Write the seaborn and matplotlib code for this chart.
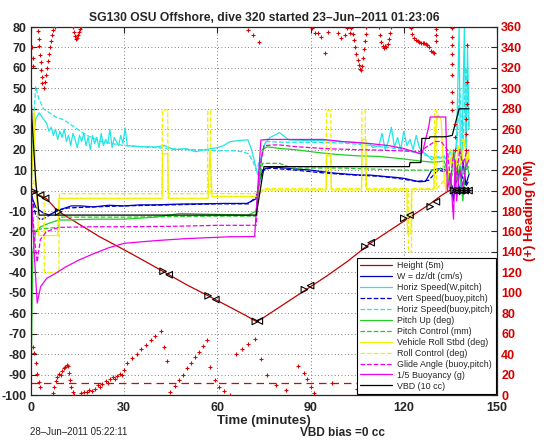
import numpy as np
import matplotlib
matplotlib.use("Agg")
import matplotlib.pyplot as plt
import seaborn as sns

# ---- data (time in minutes) ----
height_t = [0, 1, 3, 5, 8.6, 15, 22, 30, 36, 42.7, 50, 57.7, 64, 69, 72.5, 74, 80, 88, 95, 102, 109, 116, 122, 128, 132, 134.6, 137, 142]
height_v = [0, -1, -2.5, -4, -10, -16, -22.5, -29, -34, -39.7, -46, -52, -57, -61, -64, -63, -57, -49, -42, -34.5, -26, -19, -13, -7, -2.5, 0, 0, 0]

# triangle markers along the height trace
tri_r_t = [1, 8.9, 42.5, 57, 72.2, 88, 107.5, 120, 128.5, 136, 137.5, 139, 140.5]
tri_r_v = [-0.6, -10.4, -39.5, -51.5, -64, -48.5, -27.5, -13.6, -7.9, 0, 0, 0, 0]
tri_l_t = [3.1, 4.7, 44.5, 59.5, 73.5, 90, 109.5, 122, 130.5, 136.8, 138.3, 139.8, 141]
tri_l_v = [-2.2, -3.8, -41.2, -53.3, -63.8, -46.5, -25.5, -12, -5.5, 0, 0, 0, 0]

w_t = [0, 0.5, 1.5, 2.6, 4, 5.8, 7, 9, 11, 13, 16, 20, 25, 30, 35, 40, 48, 55, 62, 69.5, 72.5, 74, 75.5, 78, 82, 86, 90, 94, 98, 102, 106, 109, 113, 117, 120, 123, 125, 127, 129, 131.8, 133.5, 135, 136, 137, 138, 139, 140, 141]
w_v = [0, -4, -8, -9.5, -11, -12, -11, -9.5, -8.5, -7.5, -7.5, -8, -7.2, -7.5, -7, -7, -6.6, -6.5, -6.3, -6.3, -4, 8, 10.9, 11.5, 11, 10.5, 10, 9.2, 8.5, 8, 7.6, 7.6, 7, 6.5, 6, 5, 4.3, 4.5, 10, 10.8, 10, 5, -5, 12, -2, 15, 3, 8]

hs_t = [0, 0.5, 1.5, 2.6, 4, 5, 5.8, 6.5, 7.2, 7.9, 8.6, 9.3, 10, 10.7, 11.4, 12.1, 12.8, 13.5, 14.2, 14.9, 15.6, 16.3, 17, 17.7, 18.4,
        19.1, 19.8, 20.5, 21.2, 21.9, 22.6, 23.3, 24, 24.7, 25.4, 26.1, 26.8, 27.5, 28.2, 28.9, 29.6, 30.3, 31, 35, 40, 43, 46, 50,
        53, 56, 60, 62, 64, 67, 69.8, 71, 72.3, 73, 74, 75.3, 77, 80, 83, 88, 95, 100, 105, 109, 110, 112, 113, 114, 115, 116, 117,
        118, 119, 120, 121, 122, 123, 124, 125, 126, 127, 128, 129, 130, 131, 132, 133, 134, 135, 136, 137, 137.8, 138.3, 139, 139.5,
        140, 140.5, 141]
hs_v = [0, 20, 35, 38, 35, 33, 29, 31, 27, 30, 25, 29, 26, 30, 24, 27, 22, 28, 25, 21, 27, 24, 28, 22, 26,
        20, 27, 23, 26, 21, 28, 22, 25, 23, 30, 21, 26, 24, 22, 27, 23, 30.6, 22, 21.5, 21.3, 22, 20, 20.5,
        19, 20, 21, 22, 23.9, 24.5, 24.8, 20, 12, 7.6, 15, 23, 26, 28.3, 24.8, 24.5, 24.5, 24, 23.5, 23, 21, 22, 28, 20, 24, 31, 21,
        26, 20, 29, 22, 25, 20, 27, 21, 19, 18, 16.6, 15, 16, 16.6, 16, 17, 14, 20, 10, 25, 80, 0, 40, 80,
        10, 70, 30]

vs_t = [0, 0.5, 1.5, 3.1, 5, 7, 9, 12, 20, 30, 45, 60, 70, 72.5, 74.5, 77, 85, 95, 105, 112, 118, 124, 128, 131, 134, 136, 138, 140, 141]
vs_v = [0, -5, -12, -14.4, -13, -11, -9.5, -8.5, -8, -7.5, -7, -6.5, -6.5, -3, 10, 11, 10, 8.5, 7.5, 7, 6, 4.5, 5, 10, 9, 0, 10, 2, 5]

hsb_t = [0, 0.7, 1.5, 2.5, 4, 6, 8, 10.7, 14, 18, 22.4, 26, 30, 35, 40, 45, 50, 55, 60, 65, 68, 70, 71.5, 72.5, 74, 75.5, 78, 82, 90, 100, 110, 115, 120, 125, 128, 130, 133, 135, 137, 138, 139, 140, 141]
hsb_v = [0, 30, 50.8, 45, 40, 38, 36, 34.5, 31, 27, 24, 23, 22, 21.5, 21, 20.5, 20, 20, 19.5, 19.5, 19, 18, 14, 10, 16, 24, 23.8, 23.6, 23.6, 23.3, 22, 21, 20, 18, 17, 16, 16, 15, 20, 50, 20, 60, 30]

pitch_t = [0, 0.3, 0.6, 1.5, 3.1, 5.8, 9, 12, 20, 30, 40, 48, 55, 64, 70, 72.5, 74.5, 76, 80, 85, 94, 100, 105, 112, 119.7, 125, 129, 131, 133, 134, 135, 136, 137, 138, 139, 140, 141]
pitch_v = [-100, -60, -30, -20, -17.7, -16, -14.4, -14.4, -14, -14, -13, -11.2, -11.5, -11.8, -12, -10, 20, 21.4, 20.6, 20, 18.3, 17.5, 17, 16.7, 15.5, 14.5, 13.9, 14, 14.5, 10, 0, 20, 5, 12, -5, 15, 8]

pc_t = [0, 2, 5, 8.9, 9.2, 30, 60, 72.5, 73, 74.5, 80, 84, 90, 100, 110, 120, 129, 131, 133, 135, 137, 139, 141]
pc_v = [-20, -19, -18.5, -18, -13, -13, -12.5, -12.5, 0, 13.3, 13.3, 11, 11, 11, 10.5, 10, 10, 10, 12, 5, 15, 8, 12]

roll_t = [0, 0.5, 1, 1.5, 2.5, 8.6, 9, 42.2, 42.4, 44, 44.2, 57, 57.6, 58.3, 72.5, 75, 95, 95.2, 96.5, 96.7, 106.4, 106.6, 107.8, 108, 121,
          121.2, 122.3, 122.5, 129.6, 130.2, 131, 132, 132.8, 133.5, 134.5, 135.5, 136.5, 137.5, 138.5, 139.5, 140.4, 141]
roll_v = [0, 15, 39, 5, -22, -22, -3.8, -3.8, 18, 18, -3.8, -3.8, 20, -3, -3, 0.3, 0.3, 17, 17, 0.3, 0.3, 25, 25, 0.3, 0.3,
          -21, -21, 0.5, 0.5, 30, 37, 35, 10, 0, 10, 18, 5, 22, 12, 24.7, 13, 20]

rc_t = [0, 1, 2, 4.2, 4.3, 9, 9.1, 42.2, 42.3, 44, 44.1, 56.8, 56.9, 57.8, 57.9, 72.5, 75, 95, 95.1, 96.5, 96.6, 106.4, 106.5, 107.6, 107.7,
        121.4, 121.5, 122.5, 122.6, 129.8, 129.9, 130.5, 130.6, 133, 135, 137, 139, 141]
rc_v = [0, 5, -1.5, -1.5, -40, -40, -1.5, -1.5, 39.4, 39.4, -1.5, -1.5, 39, 39, -1.5, -1.5, 1, 1, 39, 39, 1, 1, 39, 39, 1,
        1, -30, -30, 1, 1, 39, 39, 1, 5, 20, 10, 25, 15]

ga_t = [0, 0.5, 1.2, 2, 3, 5, 7, 9, 20, 30, 45, 60, 64, 72.5, 73.5, 75, 78, 80, 85, 95, 105, 112, 118, 125, 128, 130, 132, 134, 135, 136, 137, 138, 139, 140, 141]
ga_v = [0, -10, -25, -35, -24, -20, -19, -18, -17.7, -17.7, -17.5, -17, -17, -17, 10, 22, 22.3, 22.3, 21.5, 20.5, 20, 19.8, 19.5, 19, 22, 24, 24, 20, 5, 18, 8, 20, 12, 18, 20]

buoy_t = [0, 0.5, 1.2, 2, 3.1, 5, 7.9, 11, 15.4, 20, 25, 30, 40, 50, 64, 72, 72.5, 74, 76, 80, 90, 94, 100, 109, 115, 119.6, 125, 126, 127,
          128, 128.5, 133.5, 134, 135, 136, 136.5, 137, 138, 139, 140, 141]
buoy_v = [0, -15, -35, -55, -47, -43, -40.5, -37.5, -34, -31, -28, -25.8, -24.5, -23.5, -22.6, -22.5, -10, 24.7, 25, 25, 25, 25, 24, 23, 22,
          20.7, 18.2, 18.5, 25, 31, 36, 36, 0, 8, -14, 15, -5, 10, 2, 12, 15]

vbd_t = [0, 0.3, 1.5, 2.6, 72.5, 75, 121.8, 122, 125.5, 125.8, 128.2, 128.4, 133.5, 135.6, 137.8, 141]
vbd_v = [48, 35, 5, -12, -12, 11.7, 11.7, 13.7, 13.7, 25.5, 25.5, 26.3, 26.3, 27, 40, 40]

# heading (right axis, degrees magnetic)
head_t = [0.2, 0.5, 0.8, 2.3, 2.5, 2.7, 2.9, 3.1, 3.3, 3.5, 3.7, 4.2, 4.5, 4.8, 5.1, 5.4, 5.7, 6.0, 6.4, 6.8, 7.2, 7.6,
          13.5, 13.8, 14.1, 14.4, 14.7, 15, 15.3, 15.7, 16.2,
          70, 71.5, 73.4,
          90.3, 91.3, 92.4, 93.5, 94.6, 95.6, 98.8, 99.9, 101, 101.7, 102.6,
          103.1, 103.5, 103.9, 104.3, 104.7, 105.1, 105.5, 105.9, 106.3, 106.6, 106.9, 107.2, 107.5, 107.7, 107.9,
          112, 112.4, 112.8, 113.2, 113.6, 114, 114.4, 114.8, 115.2, 115.6, 116,
          122.3, 122.8, 123.4, 123.9, 124.5, 125.0, 125.5, 126.1, 126.6, 127.1, 127.6, 128.2, 128.7, 129.3, 129.8,
          130.3, 130.3, 130.3,
          135.6, 135.6, 135.6, 135.6, 135.6, 135.6, 135.6, 135.6, 135.6, 136.5, 136.5, 136.5,
          140.3, 140.3, 140.3, 140, 140, 140,
          0.5, 1, 1.5, 2, 2.5, 3,
          7, 7.5, 8, 8.5, 9, 9.5, 10, 10.5, 11, 11.5, 11.8, 12.2, 12.6, 13, 13.4, 13.8,
          16, 17, 18, 18.8, 19.5, 20.5, 21.5, 22.3, 23, 24, 24.7, 25.5, 26.3, 27, 27.8, 28.5, 29.2, 29.9,
          31, 32.5, 34, 35.5, 37, 38.5, 40, 41.7, 42.7, 43.8,
          44.9, 46.2, 47.5, 48.8, 50.1, 51.4, 52.7, 54, 55.3, 56.6, 57.7, 59.3, 60.5, 62, 64,
          66, 68, 70, 72, 74, 76, 79, 82, 86, 88, 89, 90, 91, 97, 105, 112, 115, 117, 119, 122, 126, 129, 131, 134]
head_v = [340, 330, 322, 356, 348, 341, 333, 326, 318, 311, 305, 300, 306, 313, 320, 327, 334, 340, 346, 352, 357, 360,
          360, 355, 351, 348, 349, 352, 355, 358, 360,
          357, 352, 345,
          358.7, 353.8, 353.8, 350.5, 334.2, 355.4, 353.8, 349, 352.2, 358.7, 354.4,
          359, 353, 347, 340, 334, 328, 323, 319, 318, 322, 330, 338, 346, 353, 360,
          360, 352, 345, 341, 339, 341, 340, 343, 348, 354, 360,
          358.7, 353, 349, 347, 346, 345.7, 344.5, 344, 344.1, 343, 342.4, 340, 337, 335.9, 334.3,
          358, 352, 346,
          359, 350.5, 342, 334, 324, 313, 296.6, 287, 279, 265, 252, 240,
          342, 306, 285, 270, 255, 240,
          47, 40.8, 31, 21, 13, 8,
          2, 8, 14, 18, 21, 20, 23, 26, 27, 29, 28, 22, 15, 8, 3, 0,
          1.7, 2.5, 3, 5, 4, 6, 10, 8, 10.5, 14, 12, 16, 18, 16, 19, 21, 20, 24.5,
          31, 36, 40, 45, 49, 54, 58, 63, 47, 33,
          3.2, 9, 15, 20, 26, 31, 37, 42, 48, 53.8, 27.7, 14.7, 8, 4, 0,
          40, 45, 50, 55, 35, 20, 10, 5, 28, 22, 16, 8, 2, 12, 6, 3, 10, 2, 7, 13, 3, 10, 4, 8]

head_ref = 12  # dashed reference heading

# ---- styling ----
sns.set_style("white")
plt.rcParams['font.family'] = ['Liberation Sans', 'DejaVu Sans']
plt.rcParams['font.weight'] = 'bold'
plt.rcParams['axes.unicode_minus'] = False

red = '#d40000'
blue = '#0000c8'
cyan = '#22e5e5'
green = '#22cc22'
yellow = '#f0f000'
mag = '#ee00ee'

fig = plt.figure(figsize=(5.46, 4.42), dpi=100)
ax = fig.add_axes([31/546, 1-395/442, (497-31)/546, (395-27)/442])
ax2 = ax.twinx()

lw = 0.9
def line(t, v, c, ls='-', label=None):
    sns.lineplot(x=t, y=v, ax=ax, color=c, linestyle=ls, lw=lw, estimator=None, sort=False, label=label, legend=False)

line(height_t, height_v, '#c00000', label='Height (5m)')
line(w_t, w_v, blue, label='W = dz/dt (cm/s)')
line(hs_t, hs_v, cyan, label='Horiz Speed(W,pitch)')
line(vs_t, vs_v, blue, '--', label='Vert Speed(buoy,pitch)')
line(hsb_t, hsb_v, cyan, '--', label='Horiz Speed(buoy,pitch)')
line(pitch_t, pitch_v, green, label='Pitch Up (deg)')
line(pc_t, pc_v, green, '--', label='Pitch Control (mm)')
line(roll_t, roll_v, yellow, label='Vehicle Roll Stbd (deg)')
line(rc_t, rc_v, yellow, '--', label='Roll Control (deg)')
line(ga_t, ga_v, mag, '--', label='Glide Angle (buoy,pitch)')
line(buoy_t, buoy_v, mag, label='1/5 Buoyancy (g)')
line(vbd_t, vbd_v, 'black', label='VBD (10 cc)')

sns.scatterplot(x=tri_r_t, y=tri_r_v, ax=ax, marker='>', s=22, facecolor='none', edgecolor='black', linewidth=0.8,
                zorder=5, legend=False)
sns.scatterplot(x=tri_l_t, y=tri_l_v, ax=ax, marker='<', s=22, facecolor='none', edgecolor='black', linewidth=0.8,
                zorder=5, legend=False)

sns.scatterplot(x=head_t, y=head_v, ax=ax2, marker='+', s=12, color='#e00000', linewidth=0.8, zorder=4, legend=False)
ax2.axhline(head_ref, color='#e00000', ls='--', lw=0.9, dashes=(6, 4))

ax.set_xlim(0, 150)
ax.set_ylim(-100, 80)
ax.set_xticks(range(0, 151, 30))
ax.set_yticks(range(-100, 81, 10))
ax.grid(True, linestyle=(0, (1, 3)), color='#555555', lw=0.6)
ax.tick_params(direction='in', length=4, labelsize=9, top=True, width=0.8, pad=3)
ax.tick_params(axis='x', pad=5)
for s in ax.spines.values():
    s.set_linewidth(0.8)
    s.set_color('black')

ax2.set_ylim(0, 360)
ax2.set_yticks(range(0, 361, 20))
ax2.tick_params(direction='in', length=4, labelsize=9, labelcolor='#d40000', width=0.8, pad=3)
ax2.set_ylabel('(+) Heading (\u00b0M)', color='#d40000', fontsize=9.5, fontweight='bold', labelpad=1)
ax.set_xlabel('Time (minutes)', fontsize=9.5, fontweight='bold', labelpad=1)
ax.set_title('SG130 OSU Offshore, dive 320 started 23\u2013Jun\u20132011 01:23:06', fontsize=8.7, fontweight='bold', pad=4)

handles, labels = ax.get_legend_handles_labels()
leg = ax2.legend(handles, labels, loc='lower right', bbox_to_anchor=(1.0, 0.0), frameon=True, fancybox=False,
                 edgecolor='black', framealpha=1, handlelength=3.6, handletextpad=0.5, labelspacing=0.22, borderpad=0.35,
                 borderaxespad=0.15, prop={'weight': 'normal', 'size': 6.4})
leg.get_frame().set_linewidth(0.8)

fig.text(30/546, 1-432/442, '28\u2013Jun\u20132011 05:22:11', fontsize=7, fontweight='normal', va='center')
fig.text(300/546, 1-433/442, 'VBD bias =0 cc', fontsize=8.5, fontweight='bold', va='center')

fig.savefig('out.png', dpi=100)
